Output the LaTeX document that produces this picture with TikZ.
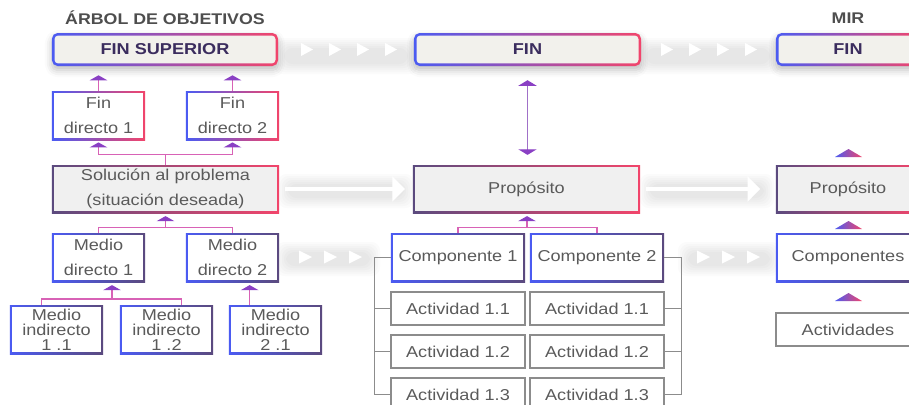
\documentclass[tikz,border=0pt]{standalone}
\usepackage{fontspec}
\setmainfont{Liberation Sans}[FakeStretch=1.15]
\usepackage{xcolor}
\usepackage{tikz}
\usetikzlibrary{arrows.meta}
\usetikzlibrary{shadows.blur}
\usetikzlibrary{positioning}

\definecolor{azul}{HTML}{4B5BF2}
\definecolor{rojo}{HTML}{F2456B}
\definecolor{morado}{HTML}{5B4A7E}
\definecolor{grisbox}{HTML}{8C8C8C}
\definecolor{texto}{HTML}{5A5A5A}
\definecolor{titulo}{HTML}{4E4E4E}
\definecolor{tinta}{HTML}{3B2D5E}
\definecolor{crema}{HTML}{F2F1EC}
\definecolor{grisfondo}{HTML}{F0F0F0}
\definecolor{rosa}{HTML}{D862B6}
\definecolor{punta}{HTML}{8A40C4}
\definecolor{lila}{HTML}{A070C8}

% halo gris detras de las flechas blancas
\newcommand\halo[4]{%
  \foreach \i in {0,...,5}{%
    \fill[black,opacity=0.016,rounded corners=6pt]
      (#1-\i*2,#2-\i*2) rectangle (#3+\i*2,#4+\i*2);}}

\tikzset{
    borde/.style n args={3}{path picture={
        \shade[left color=#1, right color=#2]
          (path picture bounding box.south west) rectangle (path picture bounding box.north east);
        \fill[#3]
          ([shift={(1.1pt,1.1pt)}]path picture bounding box.south west) rectangle
          ([shift={(-1.1pt,-1.1pt)}]path picture bounding box.north east);}},
    bordefin/.style={path picture={
        \shade[left color=azul, right color=rojo]
          (path picture bounding box.south west) rectangle (path picture bounding box.north east);
        \fill[crema, rounded corners=2.6pt]
          ([shift={(1.8pt,1.8pt)}]path picture bounding box.south west) rectangle
          ([shift={(-1.8pt,-1.8pt)}]path picture bounding box.north east);}},
    titulo/.style = {font=\bfseries\fontsize{11}{13}\selectfont, text=titulo},
    fin/.style = {rectangle, rounded corners=4pt, minimum height=0.825cm, bordefin,
        font=\bfseries\fontsize{11.2}{13}\selectfont, text=tinta,
        blur shadow={shadow xshift=0pt, shadow yshift=-3pt, shadow blur radius=5pt, shadow opacity=25}},
    caja/.style = {rectangle, align=center, inner sep=0pt, text=texto,
        font=\fontsize{11.2}{17.5}\selectfont},
    chica/.style = {caja, minimum width=2.325cm, minimum height=1.225cm},
    indir/.style = {chica, font=\fontsize{11.2}{10.6}\selectfont, borde={azul}{morado}{white}},
    act/.style = {caja, draw=grisbox, line width=1pt, minimum width=3.35cm, minimum height=0.825cm},
    conn/.style = {rosa, line width=1pt},
    flecha/.style = {conn, -{Triangle[width=12.5pt,length=3.6pt,color=punta]}},
    gris/.style = {grisbox, line width=1pt},
    blanca/.style = {white, line width=2.2pt, -{Triangle[width=17.5pt,length=9pt]}},
}

\begin{document}
\begin{tikzpicture}[x=0.025cm, y=-0.025cm] % un pixel de la imagen
\useasboundingbox (0,0) rectangle (909,404);
%
\halo{284}{48}{408}{64}
\halo{646}{48}{770}{64}
\halo{286}{252}{370}{266}
\halo{688}{252}{770}{266}
\halo{288}{184}{404}{198}
\halo{650}{184}{764}{198}
%
\foreach \x in {313,341,369,397,673,701,729,757}
  \fill[white] (\x,49.5) -- (\x-12,43) -- (\x-12,56) -- cycle;
\foreach \x in {312,337,362,710,735,760}
  \fill[white] (\x,257) -- (\x-13,250.5) -- (\x-13,263.5) -- cycle;
%
% arbol de objetivos
\node[titulo] (tarbol) at (165,18) {ÁRBOL DE OBJETIVOS};
\node[fin, minimum width=5.65cm] (finsup) at (165,49.5) {FIN SUPERIOR};
\node[chica, borde={azul}{rojo}{white}] (findir1) at (98.5,115.5) {Fin\\directo 1};
\node[chica, borde={azul}{rojo}{white}] (findir2) at (232.5,115.5) {Fin\\directo 2};
\node[caja, borde={morado}{rojo}{grisfondo}, minimum width=5.675cm, minimum height=1.2cm]
    (sol) at (165.5,189) {Solución al problema\\(situación deseada)};
\node[chica, borde={azul}{morado}{white}] (meddir1) at (98.5,257.5) {Medio\\directo 1};
\node[chica, borde={azul}{morado}{white}] (meddir2) at (232.5,257.5) {Medio\\directo 2};
\node[indir] (medind11) at (56.5,329.5) {Medio\\indirecto\\1 .1};
\node[indir] (medind12) at (166.5,329.5) {Medio\\indirecto\\1 .2};
\node[indir] (medind21) at (275.5,329.5) {Medio\\indirecto\\2 .1};
%
\draw[flecha, shorten >=6.4pt] (findir1.north) -- (findir1.north |- finsup.south);
\draw[flecha, shorten >=6.4pt] (findir2.north) -- (findir2.north |- finsup.south);
\draw[conn] (sol.north) -- ++(0,-10) coordinate (union1);
\draw[flecha, shorten >=1.5pt] (union1) -| (findir1.south);
\draw[flecha, shorten >=1.5pt] (union1) -| (findir2.south);
%
\coordinate (union2) at (165.5,228);
\draw[conn] (meddir1.north) -- ++(0,-5) -| (meddir2.north);
\draw[flecha, shorten >=2pt] (union2) -- (sol.south);
%
\coordinate (union3) at (112,299);
\draw[conn] ([xshift=22.7pt]medind11.north west) |- (union3) -| ([xshift=44pt]medind12.north west);
\draw[flecha, shorten >=2pt] (union3) -- (union3 |- meddir1.south);
\draw[flecha, shorten >=2pt] ([xshift=14.9pt]medind21.north west) coordinate (u21) -- (u21 |- meddir2.south);
%
% columna central
\node[fin, minimum width=5.675cm] (fin) at (527.5,49.5) {FIN};
\node[caja, borde={morado}{rojo}{grisfondo}, minimum width=5.675cm, minimum height=1.2cm]
    (prop) at (526.5,189) {Propósito};
\node[caja, borde={azul}{morado}{white}, minimum width=3.35cm, minimum height=1.225cm]
    (comp1) at (458,257.5) {Componente 1};
\node[caja, borde={azul}{morado}{white}, minimum width=3.35cm, minimum height=1.225cm]
    (comp2) at (597,257.5) {Componente 2};
\node[act] (act11a) at (458,308.5) {Actividad 1.1};
\node[act] (act12a) at (458,351.5) {Actividad 1.2};
\node[act] (act13a) at (458,394.5) {Actividad 1.3};
\node[act] (act11b) at (597,308.5) {Actividad 1.1};
\node[act] (act12b) at (597,351.5) {Actividad 1.2};
\node[act] (act13b) at (597,394.5) {Actividad 1.3};
%
\draw[lila, line width=1pt, {Triangle[width=13pt,length=4pt,color=punta]}-{Triangle[width=13pt,length=4pt,color=punta]},
    shorten <=9.9pt, shorten >=7pt] (fin.south) -- (fin.south |- prop.north);
\coordinate (union4) at (527,228);
\draw[conn] (comp1.north) -- ++(0,-5) -| (comp2.north);
\draw[flecha, shorten >=2pt] (union4) -- (union4 |- prop.south);
%
\draw[gris] (comp1.west) -- ++(-16,0) |- (act13a.west);
\draw[gris] (act11a.west) -- ++(-16,0);
\draw[gris] (act12a.west) -- ++(-16,0);
\draw[gris] (comp2.east) -- ++(17,0) |- (act13b.east);
\draw[gris] (act11b.east) -- ++(17,0);
\draw[gris] (act12b.east) -- ++(17,0);
%
% MIR
\node[titulo] (tmir) at (848,18) {MIR};
\node[fin, minimum width=3.6cm] (finmir) at (848,49.5) {FIN};
\node[caja, borde={morado}{rojo}{grisfondo}, minimum width=3.6cm, minimum height=1.2cm]
    (propmir) at (848,189) {Propósito};
\node[caja, borde={azul}{morado}{white}, minimum width=3.6cm, minimum height=1.225cm]
    (compmir) at (848,257.5) {Componentes};
\node[act, minimum width=3.6cm] (actmir) at (848,329.5) {Actividades};
\foreach \y in {157,229,301}
  \shade[left color=azul, right color=rojo] (835,\y) -- (848.5,\y-8) -- (862,\y) -- cycle;
%
\draw[blanca, shorten <=4pt, shorten >=5.5pt] (sol.east) -- (prop.west);
\draw[blanca, shorten <=4pt, shorten >=11pt] (prop.east) -- (propmir.west);
\end{tikzpicture}
\end{document}
